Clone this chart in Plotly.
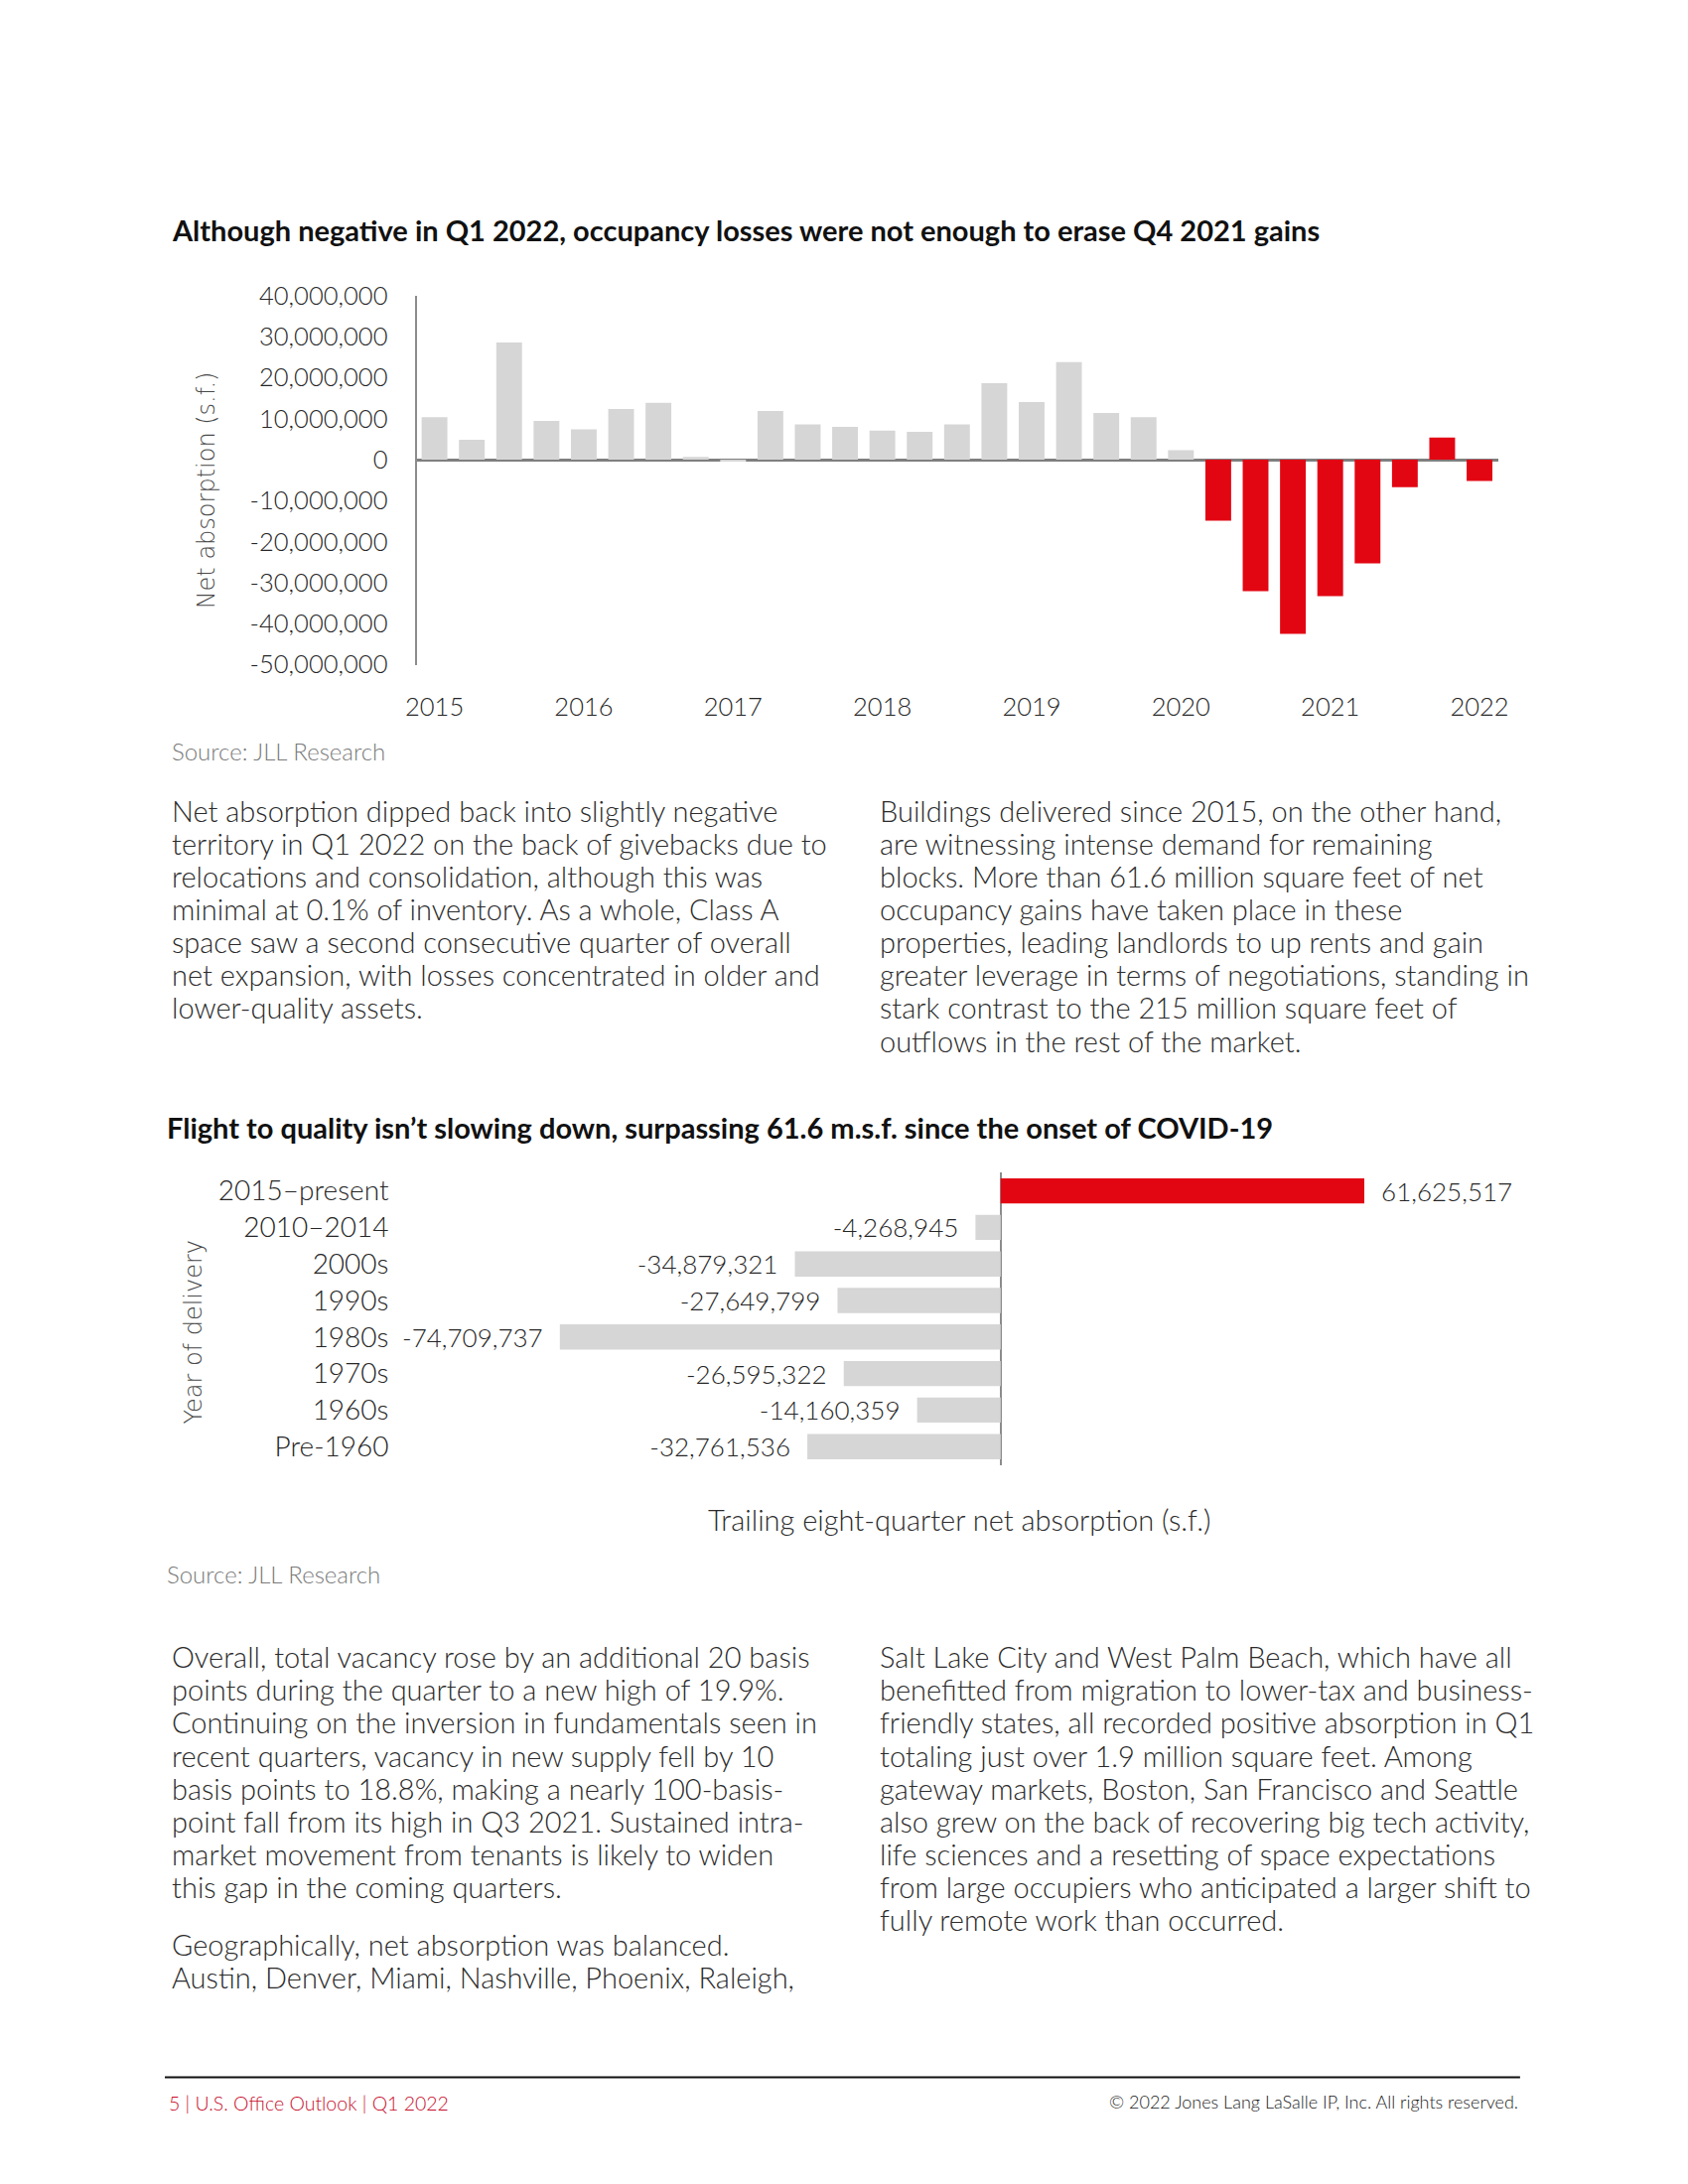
import plotly.graph_objects as go

# ---------------- data ----------------
quarters = [f"{y} Q{q}" for y in range(2015, 2023) for q in range(1, 5)][:29]
net_absorption = [
    10.4e6, 4.9e6, 28.6e6, 9.5e6, 7.4e6, 12.4e6, 13.9e6, 0.7e6,
    -0.4e6, 11.9e6, 8.6e6, 8.0e6, 7.1e6, 6.8e6, 8.6e6, 18.7e6,
    14.1e6, 23.8e6, 11.4e6, 10.4e6, 2.3e6, -14.9e6, -32.1e6, -42.5e6,
    -33.3e6, -25.3e6, -6.7e6, 5.4e6, -5.2e6,
]
year_ticks = ["2015", "2016", "2017", "2018", "2019", "2020", "2021", "2022"]
y_ticks = [40e6, 30e6, 20e6, 10e6, 0, -10e6, -20e6, -30e6, -40e6, -50e6]

vintages = ["2015–present", "2010–2014", "2000s", "1990s", "1980s", "1970s", "1960s", "Pre-1960"]
trailing_absorption = [61625517, -4268945, -34879321, -27649799, -74709737, -26595322, -14160359, -32761536]

RED = "#E20613"
GRAY = "#D6D6D6"
W, H = 1700, 2200
# compensation for the capture's padding / rescale (measured)
SX, OX = 0.985, 13.3
SY, OY = 0.985, 17.4


def px(x):
    return ((x - OX) / SX) / W


def py(y):
    return 1 - ((y - OY) / SY) / H


BODY = dict(family="Lato", size=29, color="#2b2b2b", weight=300)
NUM = dict(family="Lato", size=25.5, color="#262626", weight=300)
CAT = dict(family="Lato", size=28, color="#262626", weight=300)

fig = go.Figure()

# ---------------- chart 1 ----------------
first_covid = quarters.index("2020 Q2")
colors1 = [RED if i >= first_covid else GRAY for i in range(len(quarters))]
fig.add_trace(go.Bar(
    x=quarters, y=net_absorption, marker=dict(color=colors1, line=dict(width=0)),
    xaxis="x", yaxis="y", showlegend=False, hoverinfo="x+y",
))

# ---------------- chart 2 ----------------
colors2 = [RED if v > 0 else GRAY for v in trailing_absorption]
NB = "\u00a0\u00a0"
labels2 = [(NB + f"{v:,}") if v > 0 else (f"{v:,}" + NB) for v in trailing_absorption]
fig.add_trace(go.Bar(
    x=trailing_absorption, y=vintages, orientation="h",
    marker=dict(color=colors2, line=dict(width=0)),
    text=labels2, textposition="outside", constraintext="none",
    textfont=dict(family="Lato", size=26, color="#262626", weight=300),
    cliponaxis=False, xaxis="x2", yaxis="y2", showlegend=False,
))

q1_ticks = [q for q in quarters if q.endswith("Q1")]

x2_left = -(1008 - 403) / 5.93 * 1e6
x2_right = (1520 - 1008) / 5.93 * 1e6

fig.update_layout(
    width=W, height=H, margin=dict(l=0, r=0, t=0, b=0),
    paper_bgcolor="white", plot_bgcolor="white",
    bargap=0.31,
    xaxis=dict(domain=[px(421), px(1508)], type="category", range=[-0.48, 28.5],
               tickvals=q1_ticks, ticktext=year_ticks, tickfont=NUM,
               showgrid=False, showline=False, ticks="", ticklabelstandoff=25, anchor="y"),
    yaxis=dict(domain=[py(670), py(299)], range=[-50e6, 40e6], tickvals=y_ticks,
               ticktext=[f"{v:,.0f}" for v in y_ticks], tickfont=NUM, showgrid=False, showline=True,
               linecolor="#8c8c8c", linewidth=2, zeroline=True, zerolinecolor="#7f7f7f",
               zerolinewidth=3, ticks="", ticklabelstandoff=22, anchor="x"),
    xaxis2=dict(domain=[px(403), px(1520)], range=[x2_left, x2_right], showticklabels=False,
                showgrid=False, showline=False, zeroline=True, zerolinecolor="#8c8c8c",
                zerolinewidth=2, anchor="y2"),
    yaxis2=dict(domain=[py(1475), py(1181)], type="category", categoryorder="array",
                categoryarray=vintages, autorange="reversed", tickfont=CAT,
                showgrid=False, showline=False, zeroline=False, ticks="",
                ticklabelstandoff=9, anchor="x2"),
)

ann = []


def text(x, y, s, font, xanchor="left", yanchor="middle", **kw):
    ann.append(dict(x=px(x), y=py(y), xref="paper", yref="paper", text=s, showarrow=False,
                    xanchor=xanchor, yanchor=yanchor, font=font, **kw))


TITLE = dict(family="Lato", size=29, color="#111111", weight=700)
SRC = dict(family="Lato", size=24, color="#7a7a7a", weight=300)
AXT = dict(family="DejaVu Sans", size=24, color="#4a4a4a", weight=300)

text(173, 233, "Although negative in Q1 2022, occupancy losses were not enough to erase Q4 2021 gains", TITLE)
text(210, 495, "Net absorption (s.f.)", AXT, xanchor="center", textangle=-90)
text(173, 757, "Source: JLL Research", SRC)

para1 = [
    "Net absorption dipped back into slightly negative",
    "territory in Q1 2022 on the back of givebacks due to",
    "relocations and consolidation, although this was",
    "minimal at 0.1% of inventory. As a whole, Class A",
    "space saw a second consecutive quarter of overall",
    "net expansion, with losses concentrated in older and",
    "lower-quality assets.",
]
para2 = [
    "Buildings delivered since 2015, on the other hand,",
    "are witnessing intense demand for remaining",
    "blocks. More than 61.6 million square feet of net",
    "occupancy gains have taken place in these",
    "properties, leading landlords to up rents and gain",
    "greater leverage in terms of negotiations, standing in",
    "stark contrast to the 215 million square feet of",
    "outflows in the rest of the market.",
]
LS = 33
for i, line in enumerate(para1):
    text(173, 817 + i * LS, line, BODY)
for i, line in enumerate(para2):
    text(884, 817 + i * LS, line, BODY)

text(168, 1135, "Flight to quality isn’t slowing down, surpassing 61.6 m.s.f. since the onset of COVID-19", TITLE)
text(197, 1341, "Year of delivery", AXT, xanchor="center", textangle=-90)
text(966, 1530, "Trailing eight-quarter net absorption (s.f.)",
     dict(family="Lato", size=29, color="#2b2b2b", weight=300), xanchor="center")
text(168, 1585, "Source: JLL Research", SRC)

para3 = [
    "Overall, total vacancy rose by an additional 20 basis",
    "points during the quarter to a new high of 19.9%.",
    "Continuing on the inversion in fundamentals seen in",
    "recent quarters, vacancy in new supply fell by 10",
    "basis points to 18.8%, making a nearly 100-basis-",
    "point fall from its high in Q3 2021. Sustained intra-",
    "market movement from tenants is likely to widen",
    "this gap in the coming quarters.",
]
para4 = [
    "Geographically, net absorption was balanced.",
    "Austin, Denver, Miami, Nashville, Phoenix, Raleigh,",
]
para5 = [
    "Salt Lake City and West Palm Beach, which have all",
    "benefitted from migration to lower-tax and business-",
    "friendly states, all recorded positive absorption in Q1",
    "totaling just over 1.9 million square feet. Among",
    "gateway markets, Boston, San Francisco and Seattle",
    "also grew on the back of recovering big tech activity,",
    "life sciences and a resetting of space expectations",
    "from large occupiers who anticipated a larger shift to",
    "fully remote work than occurred.",
]
for i, line in enumerate(para3):
    text(173, 1668 + i * LS, line, BODY)
for i, line in enumerate(para4):
    text(173, 1957 + i * LS, line, BODY)
for i, line in enumerate(para5):
    text(884, 1668 + i * LS, line, BODY)

text(170, 2117, "5 | U.S. Office Outlook | Q1 2022", dict(family="Lato", size=19.5, color="#C8102E", weight=300))
text(1530, 2115, "© 2022 Jones Lang LaSalle IP, Inc. All rights reserved.",
     dict(family="Lato", size=18, color="#222222", weight=300), xanchor="right")

fig.update_layout(annotations=ann)
fig.add_shape(type="line", xref="paper", yref="paper", x0=px(168), x1=px(1530), y0=py(2091), y1=py(2091),
              line=dict(color="#111111", width=2))

fig.write_html("out.html", config={"displayModeBar": False},
               post_script="document.body.style.margin='0';document.body.style.padding='0';"
                           "document.documentElement.style.overflow='hidden';")
